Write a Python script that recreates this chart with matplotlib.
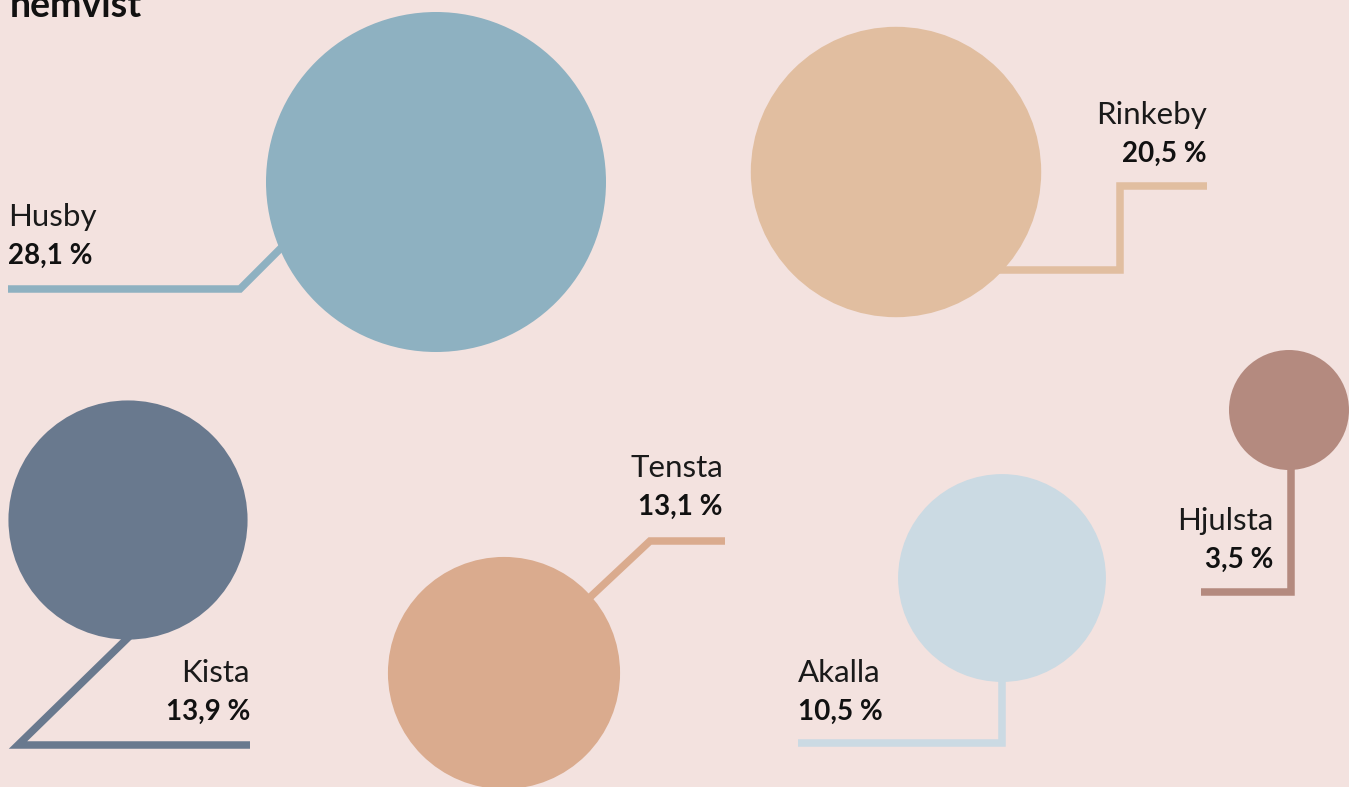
import numpy as np
import matplotlib.pyplot as plt
from matplotlib.patches import Circle

# data
names = ['Husby', 'Rinkeby', 'Kista', 'Tensta', 'Akalla', 'Hjulsta']
values = [28.1, 20.5, 13.9, 13.1, 10.5, 3.5]
colors = ['#8EB1C1', '#E1BEA0', '#69798E', '#DAAB8E', '#CBDAE3', '#B48A7F']

# layout (pixel coordinates, y downwards)
centers = [(436, 182), (896, 172), (128, 520), (504, 673), (1002, 578), (1289, 410)]
leaders = [
    [(8, 289), (240, 289), (300, 229)],
    [(960, 270), (1120, 270), (1120, 186), (1207, 186)],
    [(140, 626), (18, 745), (250, 745)],
    [(570, 616), (650, 541), (725, 541)],
    [(1002, 650), (1002, 743), (798, 743)],
    [(1291, 440), (1291, 592), (1201, 592)],
]
labels_xy = [(8, 226, 'left'), (1207, 124, 'right'), (250, 682, 'right'),
             (723, 477, 'right'), (798, 682, 'left'), (1273, 530, 'right')]

bg = '#F3E2DF'
W, H = 1349, 787
k = 170 / np.sqrt(values[0])  # radius scale, area ~ value

fig = plt.figure(figsize=(W / 100, H / 100), dpi=100, facecolor=bg)
ax = fig.add_axes([0, 0, 1, 1])
ax.set_xlim(0, W)
ax.set_ylim(H, 0)
ax.axis('off')
ax.set_facecolor(bg)

for name, val, col, c, path, (tx, ty, ha) in zip(names, values, colors, centers,
                                                  leaders, labels_xy):
    xs, ys = zip(*path)
    ax.plot(xs, ys, color=col, lw=5.4, solid_capstyle='butt',
            solid_joinstyle='miter', zorder=1)
    ax.add_patch(Circle(c, k * np.sqrt(val), color=col, lw=0, zorder=2))
    ax.text(tx, ty, name, ha=ha, va='baseline', fontsize=22.5,
            family='Lato', weight='normal', color='#1a1a1a')
    ax.text(tx, ty + 38, f'{val:.1f} %'.replace('.', ','), ha=ha,
            va='baseline', fontsize=20, family='Lato', weight='bold',
            color='#111111')

ax.text(10, 17, 'hemvist', ha='left', va='baseline', fontsize=27,
        family='Lato', weight='bold', color='#111111')

fig.savefig('out.png', dpi=100, facecolor=bg)
